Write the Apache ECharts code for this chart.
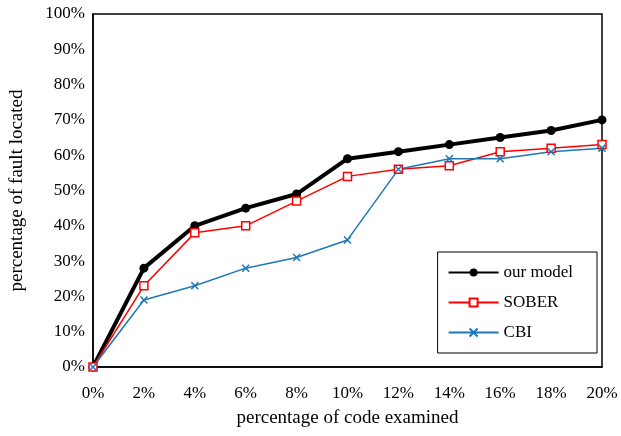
<!DOCTYPE html>
<html>
<head>
<meta charset="UTF-8">
<script src="https://cdn.jsdelivr.net/npm/echarts@6/dist/echarts.min.js"></script>
</head>
<body style="margin:0">
<div id="main" style="width:621px;height:436px;"></div>
<script>
var xLabels = ['0%','2%','4%','6%','8%','10%','12%','14%','16%','18%','20%'];
var ourModel = [0,28,40,45,49,59,61,63,65,67,70];
var sober = [0,23,38,40,47,54,56,57,61,62,63];
var cbi = [0,19,23,28,31,36,56,59,59,61,62];

var myChart = echarts.init(document.getElementById('main'));
var font = 'Liberation Serif';
var option = {
    animation: false,
    textStyle: { fontFamily: font },
    grid: { left: 89, right: 19, top: 14, bottom: 69, show: true, borderColor: '#000', borderWidth: 1.5 },
    legend: {
        orient: 'vertical', right: 24, top: 252,
        itemGap: 13, itemWidth: 50, itemHeight: 10,
        padding: [12, 24, 12, 10],
        borderColor: '#000', borderWidth: 1, backgroundColor: '#fff',
        textStyle: { fontFamily: font, fontSize: 17, color: '#000' },
        data: ['our model', 'SOBER', 'CBI']
    },
    xAxis: {
        type: 'category', data: xLabels, boundaryGap: false,
        name: 'percentage of code examined', nameLocation: 'middle', nameGap: 42,
        nameTextStyle: { fontFamily: font, fontSize: 19, color: '#000' },
        axisLine: { lineStyle: { color: '#000', width: 1.5 } },
        axisTick: { show: false },
        axisLabel: { fontFamily: font, fontSize: 17, color: '#000', margin: 18 }
    },
    yAxis: {
        type: 'value', min: 0, max: 100, interval: 10,
        name: 'percentage of fault located', nameLocation: 'middle', nameGap: 66,
        nameTextStyle: { fontFamily: font, fontSize: 19, color: '#000' },
        axisLine: { show: true, lineStyle: { color: '#000', width: 1.5 } },
        axisTick: { show: false },
        splitLine: { show: false },
        axisLabel: { fontFamily: font, fontSize: 17, color: '#000', formatter: '{value}%', margin: 8 }
    },
    series: [
        { name: 'our model', type: 'line', data: ourModel, symbol: 'circle', symbolSize: 9,
          lineStyle: { color: '#000', width: 4 }, itemStyle: { color: '#000' } },
        { name: 'SOBER', type: 'line', data: sober, symbol: 'rect', symbolSize: 8,
          lineStyle: { color: '#ff0000', width: 1.5 }, itemStyle: { color: '#fff', borderColor: '#ff0000', borderWidth: 1.5 } },
        { name: 'CBI', type: 'line', data: cbi,
          symbol: 'path://M0,0L10,10M10,0L0,10', symbolSize: 7,
          lineStyle: { color: '#1f77b4', width: 1.5 }, itemStyle: { color: '#1f77b4', borderColor: '#1f77b4', borderWidth: 1.5 } }
    ]
};
myChart.setOption(option);
</script>
</body>
</html>
